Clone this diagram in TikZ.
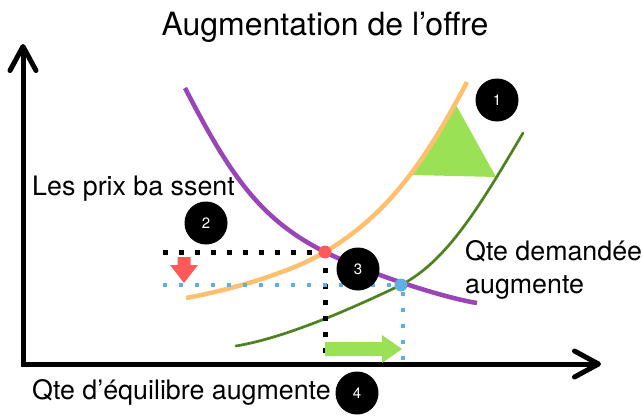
\documentclass[tikz,border=0pt]{standalone}
\usepackage{fontspec}
\setmainfont{TeX Gyre Heros}
\usetikzlibrary{arrows.meta}

\definecolor{offreold}{RGB}{255,192,110}
\definecolor{demande}{RGB}{153,68,183}
\definecolor{offrenew}{RGB}{88,140,40}
\definecolor{vertclair}{RGB}{155,225,85}
\definecolor{rougept}{RGB}{255,90,90}
\definecolor{bleupt}{RGB}{95,175,225}

\begin{document}
\begin{tikzpicture}[
  x=1pt, y=-1pt,
  axis/.style={line width=5pt, -{Straight Barb[length=24pt, width=26pt, round]}},
  curve/.style={line width=4.5pt},
  blackdots/.style={line width=5pt, dash pattern=on 5pt off 11pt},
  bluedots/.style={bleupt, line width=4pt, dash pattern=on 4pt off 12pt},
  num/.style={circle, fill=black, text=white, minimum size=43pt, inner sep=0pt, font=\fontsize{15}{15}\selectfont},
  lbl/.style={anchor=base west, inner sep=0pt, align=left, font=\fontsize{26.8}{33}\selectfont},
  eq/.style={circle, minimum size=13pt, inner sep=0pt}]
\useasboundingbox (0,0) rectangle (642,415);

% axes
\coordinate (origin) at (23,364);
\coordinate (ytop) at (23,44);
\coordinate (xend) at (601,364);
\draw[axis] ([yshift=-2.5pt]origin) -- (ytop);
\draw[axis] ([xshift=-2.5pt]origin) -- (xend);

% shift of the supply curve
\fill[vertclair] (456,105) -- (496,177) -- (413,175) -- cycle;

% equilibria
\node[eq] (E1) at (325,252) {};
\node[eq] (E2) at (401,285) {};
\coordinate (p1) at (163,252);
\coordinate (p2) at (163,285);

% curves
\draw[curve, offreold] (186,298) .. controls (230,290) and (290,273) .. (E1.center)
  .. controls (385,216) and (422,167.5) .. (467,82);
\draw[curve, demande] (185,88) .. controls (230,175) and (260,219.5) .. (E1.center)
  .. controls (365,272) and (440,297) .. (477,303);
\draw[offrenew, line width=2.8pt, line cap=round] (236,346) .. controls (290,337) and (361,304) .. (E2.center)
  .. controls (446,261.5) and (478,209.5) .. (523,133);
\draw[offrenew!70!black, line width=1pt, dash pattern=on 1pt off 1.5pt] (236,346) .. controls (290,337) and (361,304) .. (E2.center)
  .. controls (446,261.5) and (478,209.5) .. (523,133);

\draw[blackdots] (p1) -- (E1.center);
\draw[blackdots] (E1.center) -- (E1 |- origin);
\draw[bluedots] (p2) -- (E2.center);
\draw[bluedots] ([xshift=2pt]E2.south) -- ([xshift=2pt]E2 |- origin);

\fill[rougept] (E1) circle (6.5pt);
\fill[bleupt] (E2) circle (6.5pt);

% arrows
\fill[rougept] (177.5,257) -- (190.5,257) -- (190.5,265) -- (198,265) -- (184,283) -- (170,265) -- (177.5,265) -- cycle;
\fill[vertclair] (325,342) -- (382,342) -- (382,335) -- (402,349) -- (382,363) -- (382,356) -- (325,356) -- cycle;

% numbers
\node[num] (n1) at (497,100) {1};
\node[num] (n2) at (206,223) {2};
\node[num] (n3) at (358,269) {3};
\node[num] (n4) at (357,393) {4};

% texts
\node[anchor=base, inner sep=0pt, font=\fontsize{32}{32}\selectfont] (title) at (325,35) {Augmentation de l’offre};
\node[lbl] (prix) at (32,195) {Les prix ba ssent};
\node[lbl] (qd) at (465,293) {Qte demandée\\augmente};
\node[lbl] (qe) at (32,399) {Qte d’équilibre augmente};
\end{tikzpicture}
\end{document}
